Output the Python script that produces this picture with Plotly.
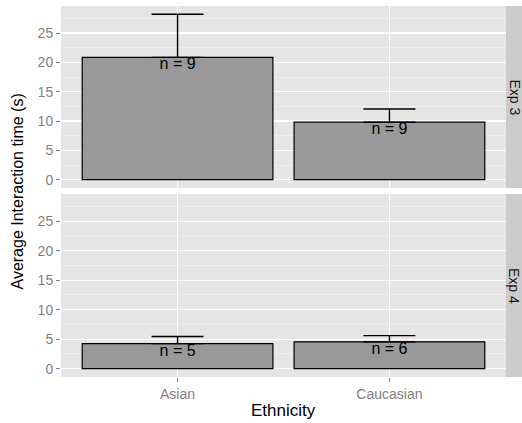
import plotly.graph_objects as go

categories = ["Asian", "Caucasian"]
exp3_mean = [20.85, 9.80]
exp3_se = [7.35, 2.25]
exp3_n = [9, 9]
exp4_mean = [4.25, 4.55]
exp4_se = [1.20, 1.05]
exp4_n = [5, 6]
panels = ["Exp 3", "Exp 4"]
y_ticks = [0, 5, 10, 15, 20, 25]

FONT = "Liberation Sans, Arial, sans-serif"
W, H = 522, 423

fig = go.Figure()

def add_panel(means, se, ns, xa, ya):
    fig.add_trace(go.Bar(
        x=categories, y=means, width=0.9,
        marker=dict(color="#999999", line=dict(color="black", width=1.2)),
        error_y=dict(type="data", array=se, arrayminus=[0] * len(se), symmetric=False,
                     color="black", thickness=1.4, width=26),
        xaxis=xa, yaxis=ya, showlegend=False, hoverinfo="skip"))
    fig.add_trace(go.Scatter(
        x=categories, y=means, mode="text",
        text=[f"n = {n}" for n in ns], textposition="bottom center",
        textfont=dict(family=FONT, size=16, color="black"),
        xaxis=xa, yaxis=ya, showlegend=False, hoverinfo="skip"))

# top panel (Exp 3) uses x2/y2, bottom (Exp 4) uses x/y
add_panel(exp3_mean, exp3_se, exp3_n, "x2", "y2")
add_panel(exp4_mean, exp4_se, exp4_n, "x", "y")

xdom = [61 / W, 506 / W]
top_dom = [1 - 188 / H, 1 - 6 / H]
bot_dom = [1 - 377 / H, 1 - 194 / H]

yaxis_common = dict(
    range=[-1.41, 29.6], tickvals=y_ticks, ticks="outside", ticklen=4,
    tickcolor="#7F7F7F", tickwidth=1,
    tickfont=dict(family=FONT, size=14, color="#7F7F7F"),
    showgrid=True, gridcolor="white", gridwidth=1.1, zeroline=False, showline=False,
    minor=dict(dtick=2.5, tick0=0, showgrid=True, gridcolor="#F2F2F2", gridwidth=0.6),
)
xaxis_common = dict(
    range=[-0.55, 1.55], showgrid=True, gridcolor="white", gridwidth=1.1,
    zeroline=False, showline=False, type="category",
)

fig.update_layout(
    width=W, height=H,
    margin=dict(l=0, r=0, t=0, b=0),
    paper_bgcolor="white", plot_bgcolor="#E5E5E5",
    font=dict(family=FONT),
    bargap=0,
    xaxis=dict(domain=xdom, anchor="y", ticks="outside", ticklen=4, tickcolor="#7F7F7F",
               tickfont=dict(family=FONT, size=14, color="#7F7F7F"), **xaxis_common),
    yaxis=dict(domain=bot_dom, anchor="x", **yaxis_common),
    xaxis2=dict(domain=xdom, anchor="y2", showticklabels=False, ticks="", **xaxis_common),
    yaxis2=dict(domain=top_dom, anchor="x2", **yaxis_common),
)

shapes = []
annotations = []
for label, dom in zip(panels, [top_dom, bot_dom]):
    shapes.append(dict(type="rect", xref="paper", yref="paper",
                       x0=506 / W, x1=1.0, y0=dom[0], y1=dom[1],
                       fillcolor="#CCCCCC", line=dict(width=0), layer="below"))
    annotations.append(dict(text=label, xref="paper", yref="paper",
                            x=514.5 / W, y=(dom[0] + dom[1]) / 2, textangle=90,
                            showarrow=False, xanchor="center", yanchor="middle",
                            font=dict(family=FONT, size=14, color="#1A1A1A")))

annotations.append(dict(text="Ethnicity", xref="paper", yref="paper",
                        x=(61 + 506) / 2 / W, y=1 - 410 / H, showarrow=False,
                        xanchor="center", yanchor="middle",
                        font=dict(family=FONT, size=17, color="black")))
annotations.append(dict(text="Average Interaction time (s)", xref="paper", yref="paper",
                        x=17 / W, y=1 - 191.5 / H, textangle=-90, showarrow=False,
                        xanchor="center", yanchor="middle",
                        font=dict(family=FONT, size=16, color="black")))

fig.update_layout(shapes=shapes, annotations=annotations)

fig.write_html("out.html",
               config={"displayModeBar": False, "staticPlot": True},
               post_script="document.body.style.margin='0';document.body.style.padding='0';"
                           "document.body.style.overflow='hidden';")
